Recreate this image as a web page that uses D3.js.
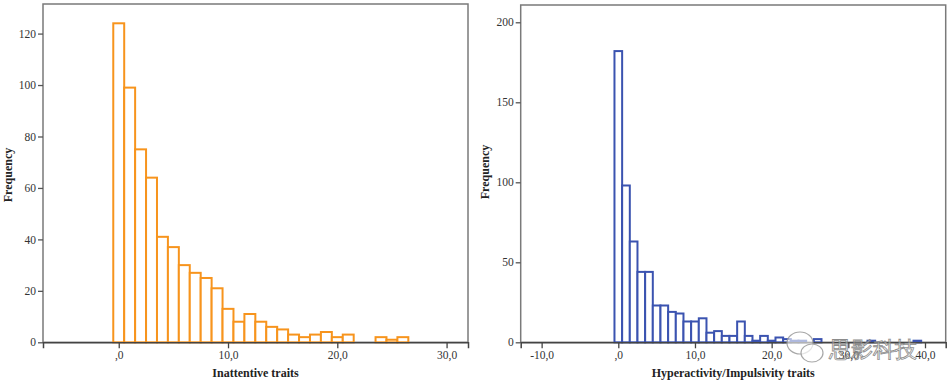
<!DOCTYPE html>
<html>
<head>
<meta charset="utf-8">
<script src="https://cdn.jsdelivr.net/npm/d3@7"></script>
<style>
  body { margin: 0; background: #fff; }
  svg { display: block; }
  text { font-family: "Liberation Serif", "DejaVu Serif", serif; }
</style>
</head>
<body>
<div id="chart"></div>
<script>
// score bins (centred on integers) and frequencies
const inattBins = d3.range(0, 27);
const inattCounts = [124, 99, 75, 64, 41, 37, 30, 27, 25, 21, 13, 8, 11, 8, 6, 5, 3, 2, 3, 4, 2, 3, 0, 0, 2, 1, 2];

const hyperBins = d3.range(0, 40);
const hyperCounts = [182, 98, 63, 44, 44, 23, 23, 19, 18, 13, 13, 15, 6, 7, 4, 4, 13, 4, 1, 4, 1, 3, 2, 1, 1, 0, 2, 0, 0, 0, 0, 0, 0, 1, 0, 0, 0, 0, 0, 1];

const inattXTicks = [0, 10, 20, 30];
const inattYTicks = [0, 20, 40, 60, 80, 100, 120];
const hyperXTicks = [-10, 0, 10, 20, 30, 40];
const hyperYTicks = [0, 50, 100, 150, 200];

const width = 949, height = 389;

const svg = d3.select('#chart').append('svg')
  .attr('width', width)
  .attr('height', height);

const fmt = d => d === 0 ? ',0' : d.toFixed(1).replace('.', ',');

function drawPanel(opts) {
  const { bins, counts, xDomain, yMax, left, right, top, bottom, xTicks, yTicks, color, xTitle, yTitleX, yTitleY } = opts;

  const x = d3.scaleLinear().domain(xDomain).range([left, right]);
  const y = d3.scaleLinear().domain([0, yMax]).range([bottom, top]);

  const g = svg.append('g');

  // frame
  g.append('rect')
    .attr('x', left).attr('y', top)
    .attr('width', right - left).attr('height', bottom - top)
    .attr('fill', 'none')
    .attr('stroke', '#7a7a7a')
    .attr('stroke-width', 1.5);

  // bars
  g.selectAll('.bar')
    .data(bins.map((b, i) => ({ b, c: counts[i] })).filter(d => d.c > 0))
    .enter()
    .append('rect')
    .attr('class', 'bar')
    .attr('x', d => x(d.b - 0.5))
    .attr('y', d => y(d.c))
    .attr('width', d => x(d.b + 0.5) - x(d.b - 0.5))
    .attr('height', d => y(0) - y(d.c))
    .attr('fill', '#fff')
    .attr('stroke', color)
    .attr('stroke-width', 2);

  const xAxis = g.append('g')
    .attr('transform', `translate(0,${bottom})`)
    .call(d3.axisBottom(x).tickValues(xTicks).tickFormat(fmt).tickSize(6).tickPadding(3));
  xAxis.select('.domain').attr('stroke', '#444').attr('stroke-width', 1.5);
  xAxis.selectAll('.tick line').attr('stroke', '#444').attr('stroke-width', 1.3);
  xAxis.selectAll('.tick text').attr('font-size', 11.5).attr('fill', '#333')
    .attr('font-family', '"Liberation Serif", serif');

  const yAxis = g.append('g')
    .attr('transform', `translate(${left},0)`)
    .call(d3.axisLeft(y).tickValues(yTicks).tickSize(5).tickPadding(2));
  yAxis.select('.domain').remove();
  yAxis.selectAll('.tick line').attr('stroke', '#555').attr('stroke-width', 1.3);
  yAxis.selectAll('.tick text').attr('font-size', 11.5).attr('fill', '#333')
    .attr('font-family', '"Liberation Serif", serif');

  g.append('text')
    .attr('x', (left + right) / 2)
    .attr('y', 377)
    .attr('text-anchor', 'middle')
    .attr('font-size', 12)
    .attr('font-weight', 'bold')
    .attr('fill', '#222')
    .text(xTitle);

  g.append('text')
    .attr('transform', `translate(${yTitleX},${yTitleY}) rotate(-90)`)
    .attr('text-anchor', 'middle')
    .attr('font-size', 12)
    .attr('font-weight', 'bold')
    .attr('fill', '#222')
    .text('Frequency');
}

drawPanel({
  bins: inattBins, counts: inattCounts,
  xDomain: [-6.93, 31.96], yMax: 131.5,
  left: 43, right: 468, top: 4, bottom: 342.3,
  xTicks: inattXTicks, yTicks: inattYTicks,
  color: '#f7941d', xTitle: 'Inattentive traits',
  yTitleX: 12, yTitleY: 175
});

drawPanel({
  bins: hyperBins, counts: hyperCounts,
  xDomain: [-12.73, 42.7], yMax: 210.8,
  left: 520.7, right: 945.7, top: 5, bottom: 342.3,
  xTicks: hyperXTicks, yTicks: hyperYTicks,
  color: '#3b53b0', xTitle: 'Hyperactivity/Impulsivity traits',
  yTitleX: 489, yTitleY: 172
});

// watermark (sits over the 30,0 tick, as in the source image)
const wm = svg.append('g').attr('opacity', 0.85);
wm.append('ellipse').attr('cx', 800).attr('cy', 343).attr('rx', 13).attr('ry', 11)
  .attr('fill', 'rgba(255,255,255,0.7)').attr('stroke', '#999').attr('stroke-width', 1.2);
wm.append('ellipse').attr('cx', 812).attr('cy', 353).attr('rx', 11).attr('ry', 9)
  .attr('fill', 'rgba(255,255,255,0.7)').attr('stroke', '#999').attr('stroke-width', 1.2);
wm.append('text')
  .attr('x', 829).attr('y', 357)
  .attr('font-family', '"Noto Sans CJK SC", sans-serif')
  .attr('font-size', 22)
  .attr('fill', 'rgba(255,255,255,0.6)')
  .attr('stroke', '#777')
  .attr('stroke-width', 0.8)
  .text('思影科技');
</script>
</body>
</html>
